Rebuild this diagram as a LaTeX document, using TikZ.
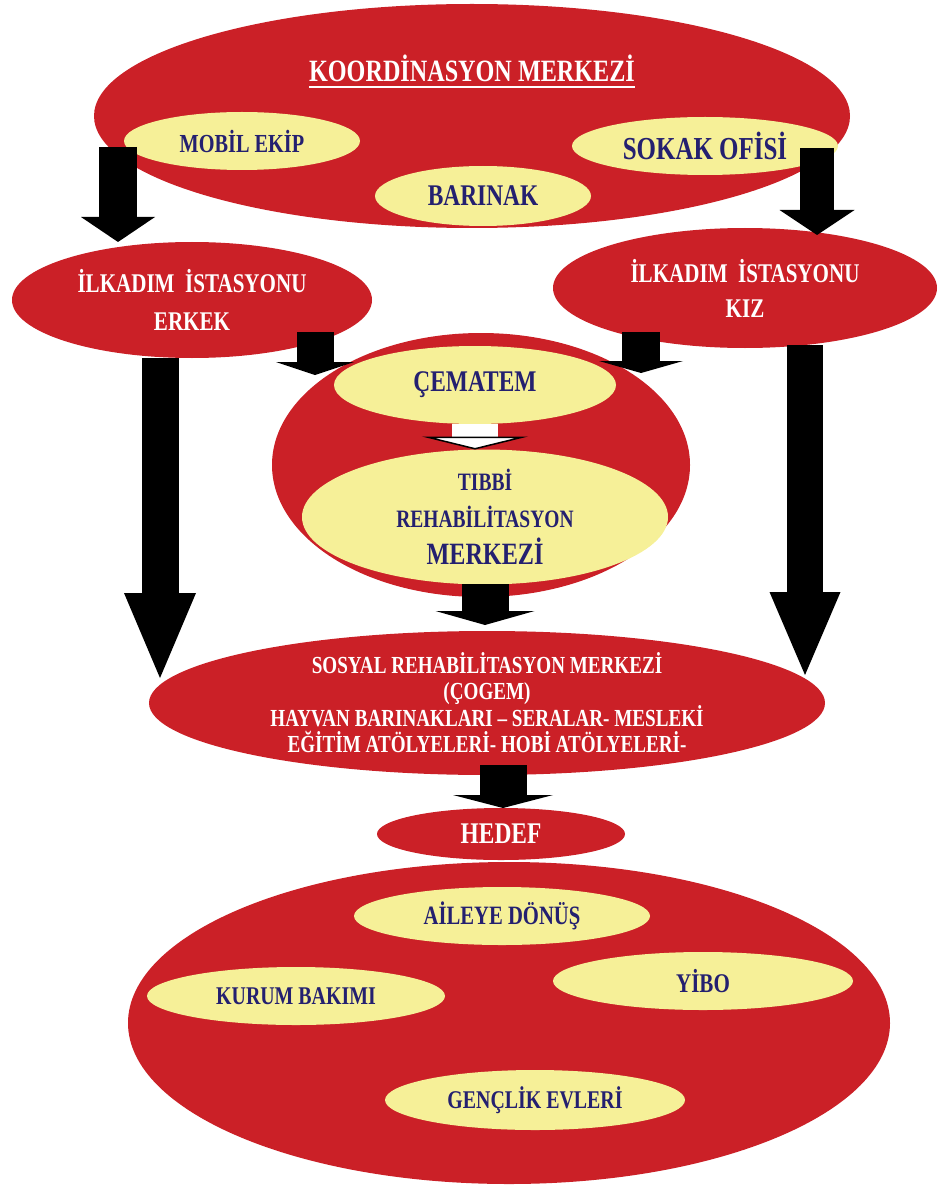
\documentclass[tikz,border=0pt]{standalone}
\usepackage{fontspec}
\setmainfont{Liberation Serif}[FakeStretch=0.78]
\usetikzlibrary{shapes.geometric, arrows.meta, calc}
\definecolor{blobred}{RGB}{203,32,39}
\definecolor{blobyellow}{RGB}{246,240,152}
\definecolor{inkblue}{RGB}{36,32,112}
\newcommand{\fsz}[2]{\fontsize{#1pt}{#2pt}\selectfont}

\begin{document}
\begin{tikzpicture}[x=1pt, y=-1pt,
	redblob/.style={ellipse, fill=blobred, inner sep=0pt, outer sep=0pt, text=white, align=center},
	yellowblob/.style={ellipse, fill=blobyellow, inner sep=0pt, outer sep=0pt, text=inkblue, align=center},
	blk/.style n args={3}{line width=#1, -{Triangle[width=#2, length=#3, line width=0pt]}}]
	\useasboundingbox (0,0) rectangle (939,1190);
	% coordination centre
	\node[redblob, minimum width=756pt, minimum height=224pt] (koord) at (472,116) {};
	\node[text=white, inner sep=0pt, font=\bfseries\fsz{31}{34}] (title) at (472,68) {KOORDİNASYON MERKEZİ};
	\draw[white, line width=2.2pt] ($(title.base west)+(0,6)$) -- ($(title.base east)+(0,6)$);
	\node[yellowblob, minimum width=236pt, minimum height=58pt, font=\bfseries\fsz{26}{30}] (mobil) at (242,141) {MOBİL EKİP};
	\node[yellowblob, minimum width=266pt, minimum height=58pt, font=\bfseries\fsz{32}{34}] (sokak) at (705,146) {SOKAK OFİSİ};
	\node[yellowblob, minimum width=216pt, minimum height=60pt, font=\bfseries\fsz{30}{32}] (barinak) at (483,196) {BARINAK};
	% first step stations
	\node[redblob, minimum width=360pt, minimum height=116pt, font=\bfseries\fsz{27}{38}] (erkek) at (192,300) {İLKADIM \ İSTASYONU\\ERKEK};
	\node[redblob, minimum width=384pt, minimum height=120pt, font=\bfseries\fsz{27}{35}] (kiz) at (745,288) {İLKADIM \ İSTASYONU\\KIZ};
	% treatment
	\node[redblob, minimum width=418pt, minimum height=264pt] (mid) at (481,465) {};
	\node[yellowblob, minimum width=282pt, minimum height=78pt, font=\bfseries\fsz{30}{32}] (cematem) at (475,385) {ÇEMATEM};
	\node[yellowblob, minimum width=366pt, minimum height=130pt, font=\bfseries\fsz{25}{37}] (tibbi) at (485,517) {TIBBİ\\REHABİLİTASYON\\{\fsz{31}{34}MERKEZİ}};
	% social rehabilitation
	\node[redblob, minimum width=676pt, minimum height=144pt, font=\bfseries\fsz{24.5}{26}] (sosyal) at (487,703) {SOSYAL REHABİLİTASYON MERKEZİ\\(ÇOGEM)\\HAYVAN BARINAKLARI – SERALAR- MESLEKİ\\EĞİTİM ATÖLYELERİ- HOBİ ATÖLYELERİ-};
	\node[redblob, minimum width=248pt, minimum height=52pt, font=\bfseries\fsz{30}{32}] (hedef) at (501,834) {HEDEF};
	% goals
	\node[redblob, minimum width=762pt, minimum height=322pt] (bottom) at (509,1023) {};
	\node[yellowblob, minimum width=296pt, minimum height=58pt, font=\bfseries\fsz{26.5}{30}] (aile) at (502,916) {AİLEYE DÖNÜŞ};
	\node[yellowblob, minimum width=300pt, minimum height=58pt, font=\bfseries\fsz{27}{30}] (yibo) at (703,981) {YİBO};
	\node[yellowblob, minimum width=298pt, minimum height=58pt, font=\bfseries\fsz{25.5}{30}] (kurum) at (296,996) {KURUM BAKIMI};
	\node[yellowblob, minimum width=300pt, minimum height=60pt, font=\bfseries\fsz{25.5}{30}] (genclik) at (535,1100) {GENÇLİK EVLERİ};
	% arrows
	\draw[blk={38pt}{74pt}{25pt}] ($(mobil.center)+(-124,6)$) -- ($(erkek.center)+(-74,-58)$);
	\draw[blk={34pt}{75pt}{25pt}] ($(sokak.center)+(112,2)$) -- ($(kiz.center)+(72,-53)$);
	\draw[blk={37pt}{78pt}{13pt}] ($(erkek.center)+(123,32)$) -- ($(mid.center)+(-166,-90)$);
	\draw[blk={38pt}{84pt}{12pt}] ($(kiz.center)+(-104,44)$) -- ($(mid.center)+(160,-92)$);
	\draw[blk={37pt}{72pt}{85pt}] ($(erkek.center)+(-32,58)$) -- ($(sosyal.center)+(-327,-25)$);
	\draw[blk={36pt}{71pt}{83pt}] ($(kiz.center)+(60,57)$) -- ($(sosyal.center)+(318,-28)$);
	\draw[line width=46pt, white, -{Triangle[width=106pt, length=13pt, line width=1.5pt, color=black, fill=white]}] (cematem.south) -- (cematem.south |- tibbi.north);
	\draw[blk={47pt}{99pt}{14pt}] (tibbi.south) -- ($(tibbi.south |- sosyal.north)+(0,-6)$);
	\draw[blk={47pt}{100pt}{13pt}] ($(hedef.north)+(2,-43)$) -- ($(hedef.north)+(2,0)$);
\end{tikzpicture}
\end{document}
